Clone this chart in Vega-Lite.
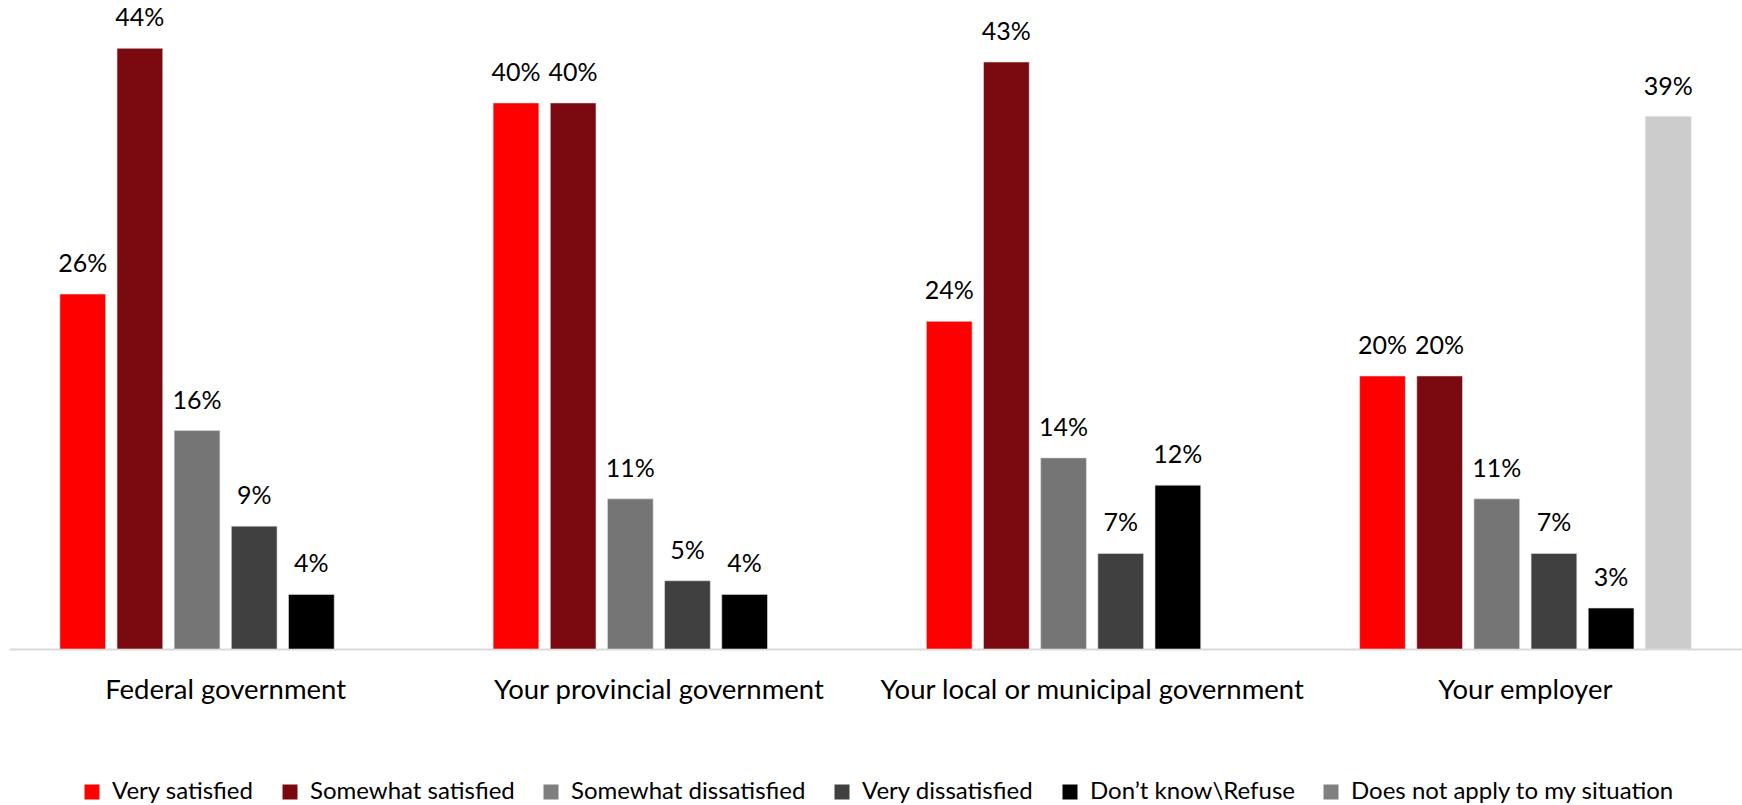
{
  "$schema": "https://vega.github.io/schema/vega-lite/v6.json",
  "width": 1733,
  "height": 649,
  "autosize": {"type": "none"},
  "padding": {"left": 9, "top": 0, "right": 0, "bottom": 156},
  "background": "white",
  "config": {"view": {"stroke": null}, "font": "Lato"},
  "data": {"values": [
    {"org": "Federal government", "resp": "Very satisfied", "v": 0.26},
    {"org": "Federal government", "resp": "Somewhat satisfied", "v": 0.44},
    {"org": "Federal government", "resp": "Somewhat dissatisfied", "v": 0.16},
    {"org": "Federal government", "resp": "Very dissatisfied", "v": 0.09},
    {"org": "Federal government", "resp": "Don’t know\\Refuse", "v": 0.04},
    {"org": "Your provincial government", "resp": "Very satisfied", "v": 0.40},
    {"org": "Your provincial government", "resp": "Somewhat satisfied", "v": 0.40},
    {"org": "Your provincial government", "resp": "Somewhat dissatisfied", "v": 0.11},
    {"org": "Your provincial government", "resp": "Very dissatisfied", "v": 0.05},
    {"org": "Your provincial government", "resp": "Don’t know\\Refuse", "v": 0.04},
    {"org": "Your local or municipal government", "resp": "Very satisfied", "v": 0.24},
    {"org": "Your local or municipal government", "resp": "Somewhat satisfied", "v": 0.43},
    {"org": "Your local or municipal government", "resp": "Somewhat dissatisfied", "v": 0.14},
    {"org": "Your local or municipal government", "resp": "Very dissatisfied", "v": 0.07},
    {"org": "Your local or municipal government", "resp": "Don’t know\\Refuse", "v": 0.12},
    {"org": "Your employer", "resp": "Very satisfied", "v": 0.20},
    {"org": "Your employer", "resp": "Somewhat satisfied", "v": 0.20},
    {"org": "Your employer", "resp": "Somewhat dissatisfied", "v": 0.11},
    {"org": "Your employer", "resp": "Very dissatisfied", "v": 0.07},
    {"org": "Your employer", "resp": "Don’t know\\Refuse", "v": 0.03},
    {"org": "Your employer", "resp": "Does not apply to my situation", "v": 0.39}
  ]},
  "encoding": {
    "x": {
      "field": "org", "type": "nominal",
      "sort": ["Federal government", "Your provincial government", "Your local or municipal government", "Your employer"],
      "scale": {"paddingInner": 0, "paddingOuter": 0},
      "axis": {
        "title": null, "labelAngle": 0, "ticks": false,
        "domainColor": "#D9D9D9", "domainWidth": 2,
        "labelFont": "Lato", "labelFontSize": 27.5, "labelColor": "#000000",
        "labelPadding": 27, "labelLimit": 500
      }
    },
    "xOffset": {
      "field": "resp", "type": "nominal",
      "sort": ["Very satisfied", "Somewhat satisfied", "Somewhat dissatisfied", "Very dissatisfied", "Don’t know\\Refuse", "Does not apply to my situation"],
      "scale": {"paddingInner": 0.2, "paddingOuter": 0.89}
    },
    "y": {
      "field": "v", "type": "quantitative",
      "scale": {"domain": [0, 0.4754], "nice": false},
      "axis": null
    }
  },
  "layer": [
    {
      "mark": {"type": "bar", "stroke": "#E0E0E0", "strokeWidth": 0.6},
      "encoding": {
        "color": {
          "field": "resp", "type": "nominal",
          "scale": {
            "domain": ["Very satisfied", "Somewhat satisfied", "Somewhat dissatisfied", "Very dissatisfied", "Don’t know\\Refuse", "Does not apply to my situation"],
            "range": ["#FF0000", "#7B0A10", "#757575", "#404040", "#000000", "#CCCCCC"]
          },
          "legend": null
        }
      }
    },
    {
      "transform": [{"filter": "false"}],
      "mark": {"type": "point", "shape": "square", "filled": true, "opacity": 1},
      "encoding": {
        "color": {
          "field": "resp", "type": "nominal",
          "scale": {
            "domain": ["Very satisfied", "Somewhat satisfied", "Somewhat dissatisfied", "Very dissatisfied", "Don’t know\\Refuse", "Does not apply to my situation"],
            "range": ["#FF0000", "#7B0A10", "#7F7F7F", "#404040", "#000000", "#808080"]
          },
          "legend": {
            "title": null, "orient": "none", "direction": "horizontal",
            "legendX": 71, "legendY": 780,
            "symbolType": "square", "symbolSize": 225, "symbolStrokeWidth": 0, "symbolOpacity": 1,
            "labelFont": "Lato", "labelFontSize": 24, "labelColor": "#000000",
            "labelOffset": 8, "columnPadding": 24, "labelLimit": 500, "padding": 0
          }
        }
      }
    },
    {
      "mark": {"type": "text", "baseline": "alphabetic", "dy": -22, "font": "Lato", "fontSize": 25, "color": "#000000"},
      "encoding": {
        "text": {"field": "v", "type": "quantitative", "format": ".0%"}
      }
    }
  ],
  "resolve": {"scale": {"color": "independent"}}
}
